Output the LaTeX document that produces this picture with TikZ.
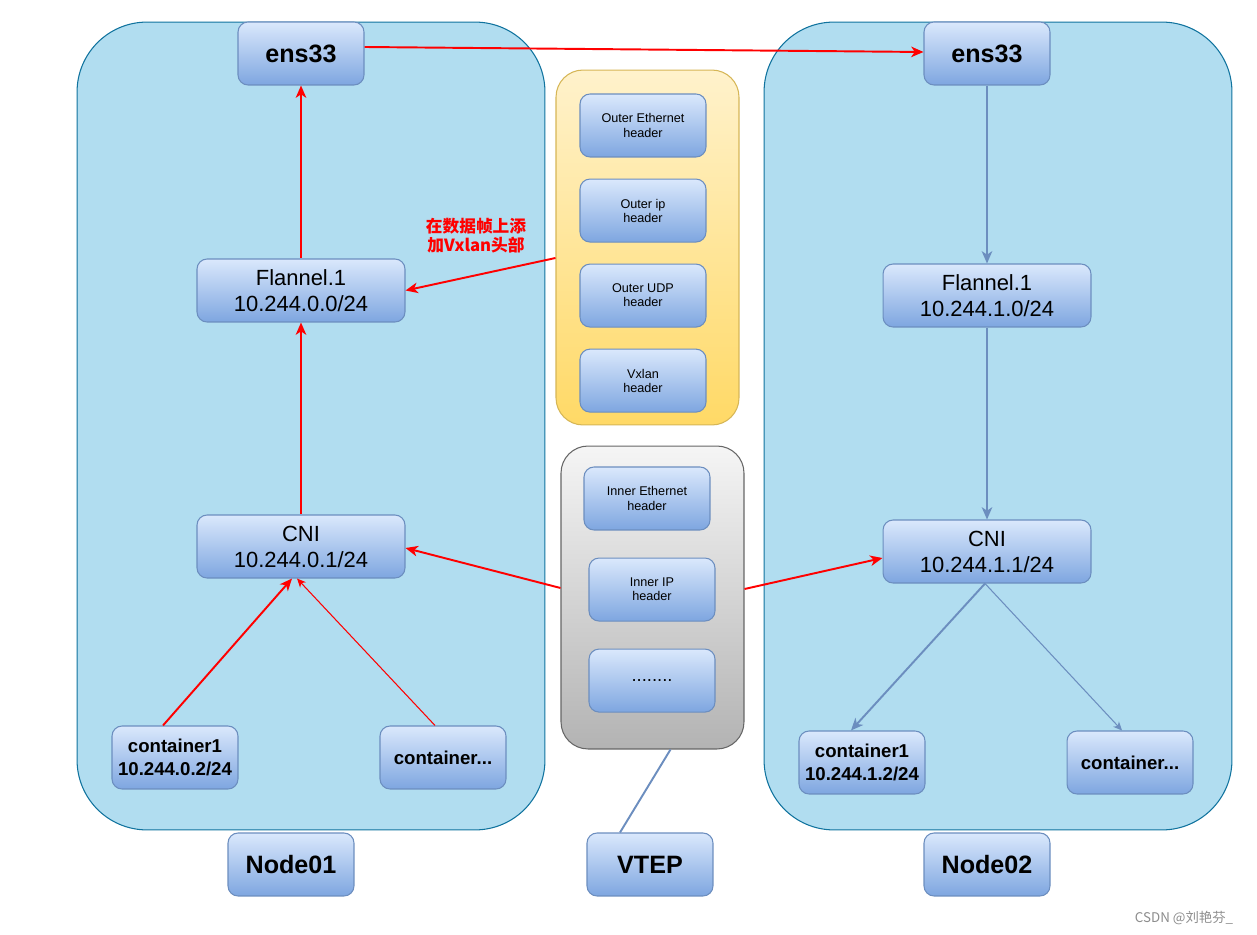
\documentclass[tikz,border=0pt]{standalone}
\usepackage{fontspec}
\setmainfont{Liberation Sans}
\newfontfamily\cjk{Noto Sans CJK SC}
\usetikzlibrary{positioning, arrows.meta}
\definecolor{hostfill}{HTML}{B1DDF0}
\definecolor{hostline}{HTML}{10739E}
\definecolor{blktop}{HTML}{DAE8FC}
\definecolor{blkbot}{HTML}{7EA6E0}
\definecolor{blkline}{HTML}{6C8EBF}
\definecolor{hdrtop}{HTML}{FFF2CC}
\definecolor{hdrbot}{HTML}{FFD966}
\definecolor{hdrline}{HTML}{D6B656}
\definecolor{innertop}{HTML}{F5F5F5}
\definecolor{innerbot}{HTML}{B3B3B3}
\definecolor{innerline}{HTML}{666666}
\tikzstyle{hostbox} = [rectangle, rounded corners=1.4cm, draw=hostline, fill=hostfill, line width=0.6pt, minimum width=9.36cm, minimum height=16.16cm]
\tikzstyle{hdrbox} = [rectangle, rounded corners=0.54cm, draw=hdrline, top color=hdrtop, bottom color=hdrbot, line width=0.6pt, minimum width=3.66cm, minimum height=7.1cm]
\tikzstyle{innerbox} = [rectangle, rounded corners=0.54cm, draw=innerline, top color=innertop, bottom color=innerbot, line width=0.6pt, minimum width=3.66cm, minimum height=6.06cm]
\tikzstyle{blk} = [rectangle, rounded corners=0.2cm, draw=blkline, top color=blktop, bottom color=blkbot, line width=0.6pt, text centered, align=center, inner sep=1pt, minimum width=2.52cm, minimum height=1.26cm]
\tikzstyle{hdr} = [blk, font=\fontsize{7.2}{8}\selectfont]
\tikzstyle{iface} = [blk, minimum width=4.16cm, font=\fontsize{12.5}{14.8}\selectfont]
\tikzstyle{ctr} = [blk, font=\fontsize{10.6}{13.4}\selectfont\bfseries]
\tikzstyle{big} = [blk, font=\fontsize{14.3}{16}\selectfont\bfseries]
\tikzstyle{redarrow} = [draw=red, line width=1.1pt, -{Stealth[length=7pt, width=6pt, inset=2pt]}]
\tikzstyle{thinred} = [draw=red, line width=0.6pt, -{Stealth[length=5pt, width=4.5pt, inset=1.5pt]}]
\tikzstyle{bluearrow} = [draw=blkline, line width=1.1pt, -{Stealth[length=7pt, width=6pt, inset=2pt]}]
\tikzstyle{thinblue} = [draw=blkline, line width=0.6pt, -{Stealth[length=5pt, width=4.5pt, inset=1.5pt]}]

\begin{document}
\begin{tikzpicture}[x=0.02cm, y=-0.02cm]
\useasboundingbox (0,0) rectangle (1257,935);
\node (host1) [hostbox] at (311,426) {};
\node (host2) [hostbox] at (998,426) {};
\node (outer) [hdrbox] at (647.5,247.5) {};
\node (inner) [innerbox] at (652.5,597.5) {};
% Node01
\node (ens_l) [big] at (301,53.5) {ens33};
\node (flannel_l) [iface, below=3.46cm of ens_l] {Flannel.1\\10.244.0.0/24};
\node (cni_l) [iface, below=3.84cm of flannel_l] {CNI\\10.244.0.1/24};
\node (c1_l) [ctr] at (175,757.5) {container1\\10.244.0.2/24};
\node (cn_l) [ctr] at (443,757.5) {container...};
\draw [redarrow] (flannel_l) -- (ens_l);
\draw [redarrow] (cni_l) -- (flannel_l);
\draw [redarrow] ([xshift=-0.24cm]c1_l.north) -- ([xshift=-0.18cm]cni_l.south);
\draw [thinred] ([xshift=-0.16cm]cn_l.north) -- ([xshift=-0.08cm]cni_l.south);
% Node02
\node (ens_r) [big] at (987,53.5) {ens33};
\node (flannel_r) [iface, below=3.56cm of ens_r] {Flannel.1\\10.244.1.0/24};
\node (cni_r) [iface, below=3.84cm of flannel_r] {CNI\\10.244.1.1/24};
\node (c1_r) [ctr] at (862,762.5) {container1\\10.244.1.2/24};
\node (cn_r) [ctr] at (1130,762.5) {container...};
\draw [bluearrow] (ens_r) -- (flannel_r);
\draw [bluearrow] (flannel_r) -- (cni_r);
\draw [bluearrow] ([xshift=-0.04cm]cni_r.south) -- ([xshift=-0.22cm]c1_r.north);
\draw [thinblue] ([xshift=-0.04cm]cni_r.south) -- ([xshift=-0.16cm]cn_r.north);
% headers
\node (oeth) [hdr] at (643,125.5) {Outer Ethernet\\header};
\node (oip) [hdr, below=0.42cm of oeth] {Outer ip\\header};
\node (oudp) [hdr, below=0.42cm of oip] {Outer UDP\\header};
\node (vxlan) [hdr, below=0.42cm of oudp] {Vxlan\\header};
\node (ieth) [hdr] at (647,498.5) {Inner Ethernet\\header};
\node (iip) [hdr, below=0.54cm of ieth, xshift=0.1cm] {Inner IP\\header};
\node (idots) [hdr, below=0.54cm of iip, font=\fontsize{10.5}{12}\selectfont] {........};
% bottom labels
\node (node01) [big] at (291,864.5) {Node01};
\node (vtep) [big] at (650,864.5) {VTEP};
\node (node02) [big] at (987,864.5) {Node02};
\draw [draw=blkline, line width=1.1pt] ([xshift=-0.6cm]vtep.north) -- ([xshift=0.36cm]inner.south);
% flows between nodes
\draw [redarrow] ([yshift=0.13cm]ens_l.east) -- ([yshift=0.03cm]ens_r.west);
\draw [redarrow] ([yshift=-0.21cm]outer.west) -- (flannel_l.east);
\node (addhdr) [text=red, align=center, font=\cjk\fontsize{9.5}{10.8}\selectfont\bfseries] at (476,236) {在数据帧上添\\加Vxlan头部};
\draw [redarrow] ([yshift=0.19cm]inner.west) -- ([yshift=-0.03cm]cni_l.east);
\draw [redarrow] ([yshift=0.17cm]inner.east) -- ([yshift=-0.13cm]cni_r.west);
\node (mark) [text=black!45, font=\cjk\fontsize{7.6}{9}\selectfont] at (1184,918) {CSDN @刘艳芬\_};
\end{tikzpicture}
\end{document}
